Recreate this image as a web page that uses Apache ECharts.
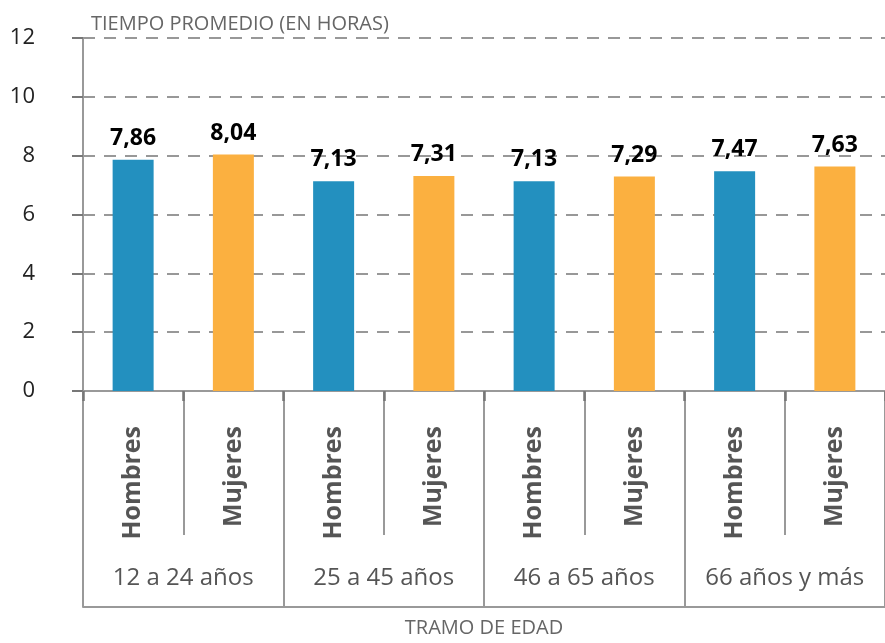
<!DOCTYPE html>
<html>
<head>
<meta charset="utf-8">
<script src="https://cdn.jsdelivr.net/npm/echarts@6/dist/echarts.min.js"></script>
<style>
  html, body { margin: 0; padding: 0; background: #fff; overflow: hidden; }
  #chart { width: 885px; height: 643px; }
</style>
</head>
<body>
<div id="chart"></div>
<script>
// datos del gráfico
var grupos = ['12 a 24 años', '25 a 45 años', '46 a 65 años', '66 años y más'];
var sexos = ['Hombres', 'Mujeres'];
var hombres = [7.86, 7.13, 7.13, 7.47];
var mujeres = [8.04, 7.31, 7.29, 7.63];
var yTicks = [0, 2, 4, 6, 8, 10, 12];

var colorHombres = '#2390bf';
var colorMujeres = '#fbb040';
var lineColor = '#999';
var darkLine = '#777';

// categorias intercaladas y series con huecos
var categorias = [];
var serieH = [];
var serieM = [];
for (var i = 0; i < grupos.length; i++) {
    categorias.push(sexos[0], sexos[1]);
    serieH.push(hombres[i], '-');
    serieM.push('-', mujeres[i]);
}

var dom = document.getElementById('chart');
var myChart = echarts.init(dom);

function etiqueta(p) {
    return p.value.toFixed(2).replace('.', ',');
}

var barLabel = {
    show: true,
    position: 'top',
    distance: 10,
    formatter: etiqueta,
    fontFamily: 'Open Sans',
    fontWeight: 'bold',
    fontSize: 23,
    color: '#000'
};

var option = {
    animation: false,
    title: {
        text: 'TIEMPO PROMEDIO (EN HORAS)',
        left: 86,
        top: 9,
        textStyle: {
            fontFamily: 'Open Sans',
            fontWeight: 'normal',
            fontSize: 20,
            color: '#666'
        }
    },
    grid: {
        left: 83,
        top: 38,
        width: 810,
        height: 358,
        containLabel: false
    },
    xAxis: [
        {
            type: 'category',
            data: categorias,
            axisLine: { show: true, lineStyle: { color: lineColor, width: 2 } },
            axisTick: { show: true, interval: 0, length: 144, lineStyle: { color: lineColor, width: 2 } },
            axisLabel: {
                interval: 0,
                rotate: 90,
                margin: 35,
                fontFamily: 'Open Sans',
                fontWeight: 'bold',
                fontSize: 25,
                color: '#555'
            },
            splitLine: { show: false }
        },
        {
            type: 'category',
            data: grupos,
            position: 'bottom',
            axisLine: { show: false },
            axisTick: { show: true, interval: 0, length: 216, lineStyle: { color: lineColor, width: 2 } },
            axisLabel: {
                interval: 0,
                margin: 175,
                fontFamily: 'Open Sans',
                fontSize: 24,
                color: '#555'
            },
            splitLine: { show: false }
        },
        {
            type: 'category',
            data: grupos,
            position: 'bottom',
            offset: 216,
            axisLine: { show: true, lineStyle: { color: lineColor, width: 2 } },
            axisTick: { show: false },
            axisLabel: { show: false },
            name: 'TRAMO DE EDAD',
            nameLocation: 'middle',
            nameGap: 11,
            nameTextStyle: {
                fontFamily: 'Open Sans',
                fontSize: 20,
                color: '#666',
                verticalAlign: 'top'
            }
        },
        {
            // marcas cortas mas oscuras al inicio de cada separador
            type: 'category',
            data: categorias,
            position: 'bottom',
            axisLine: { show: false },
            axisTick: { show: true, interval: 0, length: 10, lineStyle: { color: darkLine, width: 2.5 } },
            axisLabel: { show: false }
        }
    ],
    yAxis: [
        {
            type: 'value',
            min: yTicks[0],
            max: yTicks[yTicks.length - 1],
            interval: 2,
            axisLine: { show: false },
            axisTick: { show: true, length: 11, lineStyle: { color: darkLine, width: 2 } },
            axisLabel: {
                margin: 48,
                align: 'right',
                fontFamily: 'Open Sans',
                fontSize: 22,
                color: '#222'
            },
            splitLine: {
                show: true,
                lineStyle: { color: darkLine, width: 1.5, type: [12, 9] }
            }
        },
        {
            // solo la linea del eje, un poco mas alta que el ultimo valor
            type: 'value',
            min: 0,
            max: 12.84,
            position: 'left',
            axisLine: { show: true, lineStyle: { color: lineColor, width: 2 } },
            axisTick: { show: false },
            axisLabel: { show: false },
            splitLine: { show: false }
        }
    ],
    series: [
        {
            name: 'Hombres',
            type: 'bar',
            xAxisIndex: 0,
            yAxisIndex: 0,
            data: serieH,
            barWidth: 41,
            barGap: '-100%',
            itemStyle: { color: colorHombres },
            label: barLabel
        },
        {
            name: 'Mujeres',
            type: 'bar',
            xAxisIndex: 0,
            yAxisIndex: 0,
            data: serieM,
            barWidth: 41,
            barGap: '-100%',
            itemStyle: { color: colorMujeres },
            label: barLabel
        }
    ]
};

myChart.setOption(option);
</script>
</body>
</html>
